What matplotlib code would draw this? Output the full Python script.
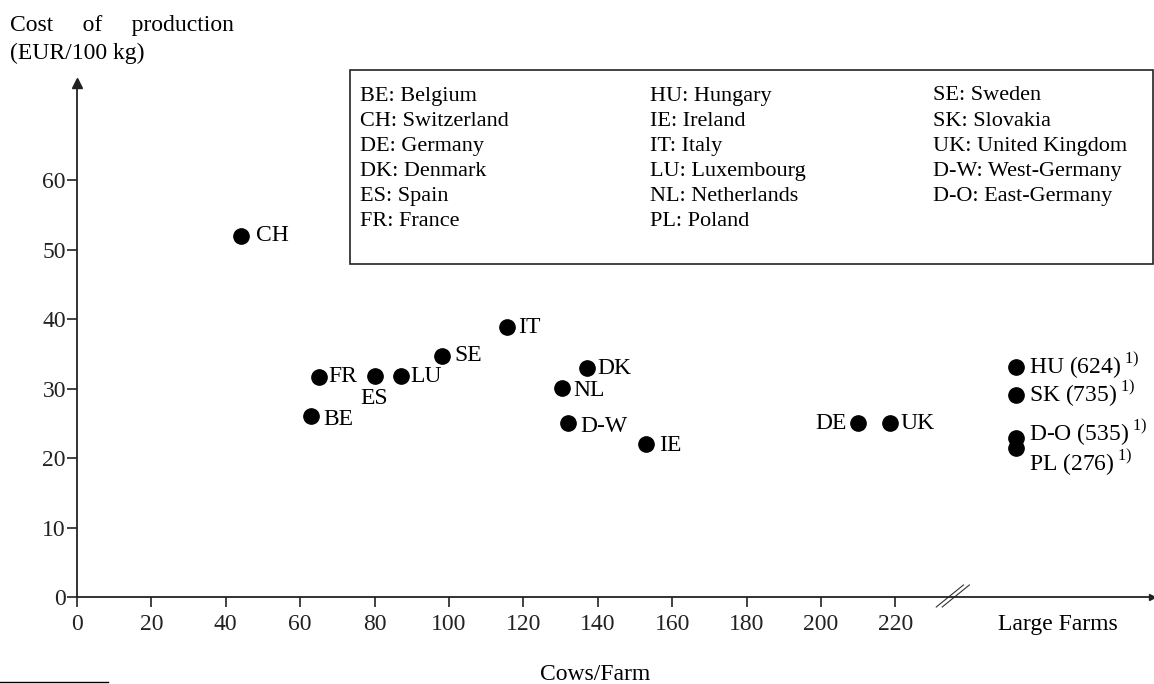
import matplotlib.pyplot as plt
from matplotlib.lines import Line2D
from matplotlib.patches import Rectangle

plt.rcParams['font.family'] = ['Liberation Serif', 'DejaVu Serif']
plt.rcParams['mathtext.fontset'] = 'custom'
plt.rcParams['mathtext.rm'] = 'Liberation Serif'

# data
countries = ['CH', 'FR', 'BE', 'ES', 'LU', 'SE', 'IT', 'DK', 'NL', 'D-W', 'IE', 'DE', 'UK']
cows = [44, 65, 63, 80, 87, 98, 115.5, 137, 130.5, 132, 153, 210, 218.5]
cost = [52, 31.7, 26, 31.8, 31.8, 34.7, 38.8, 32.9, 30.1, 25, 22, 25, 25]

large_countries = ['HU', 'SK', 'D-O', 'PL']
large_cows = [624, 735, 535, 276]
large_cost = [33.1, 29.1, 22.9, 21.4]

legend_codes = ['BE', 'CH', 'DE', 'DK', 'ES', 'FR',
                'HU', 'IE', 'IT', 'LU', 'NL', 'PL',
                'SE', 'SK', 'UK', 'D-W', 'D-O']
legend_names = ['Belgium', 'Switzerland', 'Germany', 'Denmark', 'Spain', 'France',
                'Hungary', 'Ireland', 'Italy', 'Luxembourg', 'Netherlands', 'Poland',
                'Sweden', 'Slovakia', 'United Kingdom', 'West-Germany', 'East-Germany']

xticks = list(range(0, 221, 20))
yticks = list(range(0, 61, 10))
LARGE_X = 252.5

# label offsets in points (dx, dy, ha)
offs = {'CH': (11, 0, 'left'), 'FR': (7, 0, 'left'), 'BE': (9, -2, 'left'),
        'ES': (0, -16, 'center'), 'LU': (7, 0, 'left'), 'SE': (9, 0, 'left'),
        'IT': (8, 0, 'left'), 'DK': (8, 0, 'left'), 'NL': (8, -2, 'left'),
        'D-W': (9, -2, 'left'), 'IE': (9, -1, 'left'), 'DE': (-8, 0, 'right'),
        'UK': (8, 0, 'left')}
large_dy = {'HU': 1, 'SK': 1, 'D-O': 4, 'PL': -10}

W, H = 1154, 684
fig = plt.figure(figsize=(W / 100, H / 100), dpi=100)
ax = fig.add_axes([77 / W, (H - 597) / H, (1152 - 77) / W, (597 - 83) / H])
ax.set_xlim(0, 289)
ax.set_ylim(0, 74)

for s in ['top', 'right']:
    ax.spines[s].set_visible(False)
for s in ['left', 'bottom']:
    ax.spines[s].set_color('#222222')
    ax.spines[s].set_linewidth(1.3)

ax.set_xticks(xticks)
ax.set_yticks(yticks)
ax.tick_params(axis='x', direction='out', length=7, width=1.2, labelsize=17, pad=5, colors='#222222')
ax.tick_params(axis='y', direction='out', length=7, width=1.2, labelsize=17, pad=1, colors='#222222')

# arrow heads
ax.plot(0, 1, marker='^', ms=7, color='#222222', transform=ax.get_xaxis_transform(), clip_on=False)
ax.plot(1, 0, marker='>', ms=5, color='#222222', transform=ax.get_yaxis_transform(), clip_on=False)

# axis break
for dx in [0, 1.6]:
    ax.plot([231 + dx, 238.3 + dx], [-1.44, 1.73], color='#333333', lw=0.8, clip_on=False)

ax.annotate('Large Farms', (263.6, 0), xytext=(0, -12), textcoords='offset points',
            fontsize=17, ha='center', va='top', annotation_clip=False)

# points
ax.plot(cows, cost, 'o', color='black', ms=11, clip_on=False)
for c, x, y in zip(countries, cows, cost):
    dx, dy, ha = offs[c]
    ax.annotate(c, (x, y), xytext=(dx, dy), textcoords='offset points',
                ha=ha, va='center', fontsize=17)

ax.plot([LARGE_X] * len(large_cost), large_cost, 'o', color='black', ms=11, clip_on=False)
for c, n, y in zip(large_countries, large_cows, large_cost):
    ax.annotate(c + ' (' + str(n) + ')$\\,^{\\mathrm{1)}}$', (LARGE_X, y),
                xytext=(9, large_dy[c]), textcoords='offset points',
                ha='left', va='center', fontsize=17)

# axis titles
fig.text(10 / W, 1 - 26 / H, 'Cost     of     production', fontsize=17, va='center')
fig.text(10 / W, 1 - 53 / H, '(EUR/100 kg)', fontsize=17, va='center')
fig.text(595 / W, 1 - 674 / H, 'Cows/Farm', fontsize=17, ha='center', va='center')

# footnote separator
fig.add_artist(Line2D([0, 108 / W], [2 / H, 2 / H], color='black', lw=1))

# legend box
fig.add_artist(Rectangle((350 / W, (H - 264) / H), (1153 - 350) / W, 194 / H,
                         fill=False, edgecolor='#222222', lw=1.2))
col_x = [360, 650, 933]
starts = [0, 6, 12]
for ci, st in enumerate(starts):
    end = starts[ci + 1] if ci + 1 < len(starts) else len(legend_codes)
    for r, i in enumerate(range(st, end)):
        fig.text(col_x[ci] / W, 1 - (96 + r * 25.2) / H,
                 legend_codes[i] + ': ' + legend_names[i],
                 fontsize=16, va='center')

fig.savefig('out.png', dpi=100)
